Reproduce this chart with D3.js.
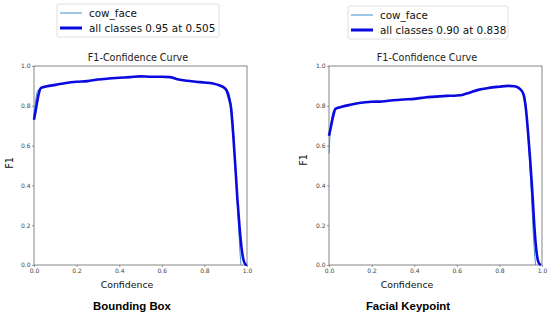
<!DOCTYPE html>
<html>
<head>
<meta charset="utf-8">
<script src="https://cdn.jsdelivr.net/npm/d3@7"></script>
<style>
  body { margin: 0; background: white; }
  text { font-family: "DejaVu Sans", sans-serif; }
</style>
</head>
<body>
<script>
const W = 550, H = 326

// tick values shared by both axes
const tickValues = [0, 0.2, 0.4, 0.6, 0.8, 1.0]

// Bounding Box panel: [confidence, F1]
const boxAll = [[0,0.73],[0.01,0.79],[0.02,0.85],[0.033,0.89],[0.06,0.898],[0.1,0.905],[0.15,0.915],[0.2,0.921],[0.25,0.924],[0.3,0.932],[0.35,0.937],[0.4,0.941],[0.45,0.944],[0.5,0.948],[0.55,0.946],[0.6,0.946],[0.64,0.944],[0.68,0.932],[0.72,0.926],[0.76,0.921],[0.8,0.917],[0.84,0.912],[0.87,0.903],[0.89,0.893],[0.905,0.875],[0.915,0.84],[0.925,0.79],[0.935,0.66],[0.945,0.5],[0.955,0.33],[0.965,0.19],[0.975,0.08],[0.985,0.02],[0.993,0.003],[1.0,0]]
const boxCow = [[0,0.75],[0.015,0.87],[0.03,0.89],[0.06,0.898],[0.1,0.905],[0.15,0.915],[0.2,0.921],[0.25,0.924],[0.3,0.932],[0.35,0.937],[0.4,0.941],[0.45,0.944],[0.5,0.948],[0.55,0.946],[0.6,0.946],[0.64,0.944],[0.68,0.932],[0.72,0.926],[0.76,0.921],[0.8,0.917],[0.84,0.912],[0.87,0.903],[0.89,0.895],[0.91,0.875],[0.922,0.83],[0.932,0.74],[0.942,0.58],[0.95,0.42],[0.958,0.25],[0.965,0.1],[0.972,0]]

// Facial Keypoint panel
const faceAll = [[0,0.65],[0.01,0.7],[0.02,0.75],[0.03,0.785],[0.06,0.795],[0.1,0.805],[0.15,0.815],[0.2,0.82],[0.25,0.822],[0.3,0.828],[0.35,0.832],[0.4,0.835],[0.45,0.842],[0.5,0.846],[0.55,0.85],[0.6,0.852],[0.63,0.856],[0.66,0.866],[0.7,0.88],[0.75,0.89],[0.8,0.896],[0.84,0.9],[0.87,0.898],[0.89,0.89],[0.905,0.875],[0.915,0.85],[0.925,0.78],[0.935,0.66],[0.945,0.52],[0.955,0.36],[0.965,0.18],[0.975,0.06],[0.985,0.01],[0.995,0]]
const faceCow = [[0,0.56],[0.01,0.72],[0.025,0.78],[0.06,0.795],[0.1,0.805],[0.15,0.815],[0.2,0.82],[0.25,0.822],[0.3,0.828],[0.35,0.832],[0.4,0.835],[0.45,0.842],[0.5,0.846],[0.55,0.85],[0.6,0.852],[0.63,0.856],[0.66,0.866],[0.7,0.88],[0.75,0.89],[0.8,0.896],[0.84,0.9],[0.87,0.898],[0.89,0.892],[0.908,0.875],[0.92,0.84],[0.93,0.72],[0.94,0.55],[0.95,0.36],[0.958,0.18],[0.965,0.06],[0.97,0]]

const legendLabels = ['cow_face', 'all classes 0.95 at 0.505', 'all classes 0.90 at 0.838']

const svg = d3.select('body').append('svg')
    .attr('width', W)
    .attr('height', H)

function drawPanel(p) {
    const x = d3.scaleLinear().domain([0, 1]).range([p.x0, p.x1])
    const y = d3.scaleLinear().domain([0, 1]).range([265, 66])

    // frame
    svg.append('rect')
        .attr('x', p.x0).attr('y', 66)
        .attr('width', p.x1 - p.x0).attr('height', 199)
        .attr('fill', 'none')
        .attr('stroke', '#666')
        .attr('stroke-width', 0.8)

    const xAxis = svg.append('g')
        .attr('transform', 'translate(0,265)')
        .call(d3.axisBottom(x).tickValues(tickValues).tickFormat(d3.format('.1f')).tickSize(2).tickPadding(1.5))
    const yAxis = svg.append('g')
        .attr('transform', 'translate(' + p.x0 + ',0)')
        .call(d3.axisLeft(y).tickValues(tickValues).tickFormat(d3.format('.1f')).tickSize(2).tickPadding(1.5))

    for (const ax of [xAxis, yAxis]) {
        ax.select('.domain').remove()
        ax.selectAll('line').attr('stroke', '#555').attr('stroke-width', 0.6)
        ax.selectAll('text')
            .attr('fill', '#444')
            .style('font-size', '6px')
            .style('font-family', '"DejaVu Sans", sans-serif')
    }

    const line = d3.line()
        .x(d => x(d[0]))
        .y(d => y(d[1]))
        .curve(d3.curveMonotoneX)

    svg.append('path')
        .datum(p.cow)
        .attr('d', line)
        .attr('fill', 'none')
        .attr('stroke', '#3d8fd1')
        .attr('stroke-width', 1)

    svg.append('path')
        .datum(p.all)
        .attr('d', line)
        .attr('fill', 'none')
        .attr('stroke', '#0a0ae0')
        .attr('stroke-width', 2.6)
        .attr('stroke-linejoin', 'round')

    // title
    svg.append('text')
        .attr('x', p.titleX).attr('y', 61)
        .attr('text-anchor', 'middle')
        .attr('fill', '#222')
        .style('font-size', '9.6px')
        .text('F1-Confidence Curve')

    // axis labels
    svg.append('text')
        .attr('x', p.xLabelX).attr('y', 288)
        .attr('text-anchor', 'middle')
        .attr('fill', '#111')
        .style('font-size', '9.4px')
        .text('Confidence')

    svg.append('text')
        .attr('text-anchor', 'middle')
        .attr('transform', 'translate(' + (p.yLabelX) + ',' + p.yLabelY + ')rotate(-90)')
        .attr('fill', '#111')
        .style('font-size', '9.6px')
        .text('F1')

    // legend
    const lg = svg.append('g').attr('transform', 'translate(' + p.legX + ',' + p.legY + ')')
    lg.append('rect')
        .attr('x', 0).attr('y', 0)
        .attr('width', p.legW).attr('height', 33)
        .attr('rx', 2)
        .attr('fill', 'white')
        .attr('stroke', '#d6d6d6')
        .attr('stroke-width', 0.8)
    lg.append('line')
        .attr('x1', 3).attr('x2', 25).attr('y1', 9).attr('y2', 9)
        .attr('stroke', '#3d8fd1').attr('stroke-width', 1)
    lg.append('line')
        .attr('x1', 3).attr('x2', 25).attr('y1', 24).attr('y2', 24)
        .attr('stroke', '#0a0ae0').attr('stroke-width', 3)
    lg.append('text')
        .attr('x', 32).attr('y', 12.8)
        .attr('fill', '#111')
        .style('font-size', '10.4px')
        .text(legendLabels[0])
    lg.append('text')
        .attr('x', 32).attr('y', 27.8)
        .attr('fill', '#111')
        .style('font-size', '10.4px')
        .text(p.legText)

    // caption under the panel
    svg.append('text')
        .attr('x', p.capX).attr('y', 310)
        .attr('text-anchor', 'middle')
        .attr('fill', '#000')
        .style('font-family', '"Liberation Sans", Arial, sans-serif')
        .style('font-weight', 'bold')
        .style('font-size', '11.4px')
        .text(p.caption)
}

drawPanel({x0: 34, x1: 247, all: boxAll, cow: boxCow, titleX: 138, xLabelX: 127, yLabelX: 13, yLabelY: 163,
    legX: 57, legY: 4, legW: 162, legText: legendLabels[1], capX: 132, caption: 'Bounding Box'})

drawPanel({x0: 329, x1: 542, all: faceAll, cow: faceCow, titleX: 427, xLabelX: 407, yLabelX: 307, yLabelY: 160,
    legX: 348, legY: 6, legW: 160, legText: legendLabels[2], capX: 408, caption: 'Facial Keypoint'})
</script>
</body>
</html>
